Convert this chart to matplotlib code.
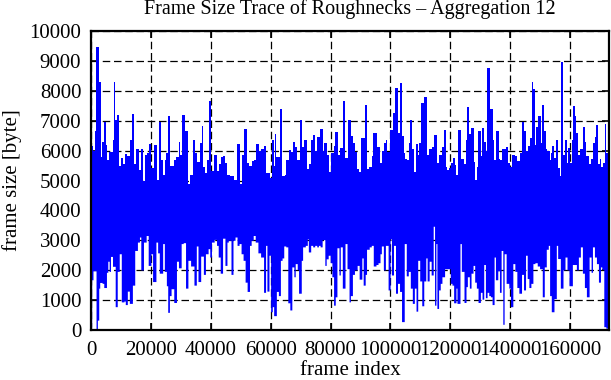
import numpy as np
import matplotlib.pyplot as plt

# frame index (in thousands) where each step of the upper envelope starts, and its value [byte]
hi_k = [0, 0.67, 1.35, 1.69, 2.70, 3.26, 3.82, 4.38, 4.95, 5.51, 6.07, 7.19, 7.53, 8.09, 8.54, 9.33,
        9.89, 10.68, 11.35, 12.14, 13.04, 13.60, 14.39, 15.06, 16.19, 16.64, 17.42, 18.10, 18.66, 19.33,
        20.01, 21.13, 21.92, 22.59, 23.27, 23.94, 24.62, 25.18, 25.63, 26.53, 27.65, 28.55, 29.34, 29.79,
        30.46, 31.36, 32.37, 33.05, 33.94, 34.73, 35.41, 36.31, 36.98, 37.43, 38.22, 38.67, 39.34, 40.01,
        41.03, 42.15, 42.71, 43.39, 44.06, 44.85, 45.41, 46.42, 47.77, 48.78, 49.91, 50.36, 51.25, 52.15,
        52.94, 53.73, 54.51, 55.19, 55.98, 56.87,
        57.86, 58.54, 59.66, 60.34, 61.01, 61.35, 61.91, 63.03, 63.93, 64.72, 65.28, 66.07, 66.74, 67.42,
        68.09, 68.66, 69.78, 70.34, 71.24, 72.03, 72.70, 73.38, 74.05, 74.84, 75.40, 76.52, 77.42, 77.98,
        78.66, 79.45, 80.23, 81.02, 81.58, 82.48, 83.27, 84.17, 84.95, 85.74, 86.86, 87.54, 88.10, 88.89,
        89.45, 90.24, 91.47, 92.26, 92.93, 93.72, 94.28, 95.41, 96.42, 97.20, 97.88, 98.44, 99.00, 99.90,
        101.03, 101.70, 102.60, 103.27, 103.84, 104.40, 104.96, 105.52, 106.09, 106.65, 107.10, 107.77,
        108.56, 109.12, 109.68, 110.25, 111.14, 112.15, 113.05, 113.84, 114.51,
        115.53, 116.31, 117.21, 117.88, 118.44, 118.99, 119.66, 120.22, 120.78, 121.45, 122.01, 122.57,
        123.57, 124.47, 125.36, 125.70, 126.14, 127.04, 127.93, 128.38, 128.82, 129.27, 130.16, 130.61,
        131.17, 131.95, 132.40, 133.18, 134.19, 134.63, 135.30, 136.20, 136.76, 137.31, 138.65, 139.32,
        139.99, 140.66, 141.56, 142.23, 143.12, 144.02, 144.57, 145.13, 145.80, 146.47, 147.37, 147.70,
        148.26, 148.71, 149.38, 150.27, 150.72, 151.28, 151.84, 152.39, 153.17, 153.62, 154.07, 154.74,
        155.41, 155.97, 156.64, 157.08, 157.75, 158.31, 158.98, 159.43, 160.10, 160.55, 161.11, 161.66,
        162.11, 162.67, 163.23, 164.35, 164.90, 165.46, 166.36, 167.14, 167.81, 168.37, 168.81, 169.37,
        169.93, 170.49, 171.05, 171.61, 172.17]
hi_val = [6150, 6000, 6670, 9450, 8300, 5800, 6300, 6960, 6200, 5680, 5950, 6370, 8280, 7010, 7200, 5480,
          5750, 5560, 5880, 5810, 6340, 7240, 5560, 6040, 5350, 6070, 4980, 5850, 5920, 6230,
          5430, 6180, 5010, 6950, 5700, 5200, 5680, 5920, 7150, 5480, 5680, 5780, 6300, 5840,
          7180, 6650, 4870, 5200, 6350, 5920, 5620, 6260, 6810, 5450, 5240, 5700, 7650, 5320,
          5850, 5320, 5560, 5770, 5810, 5590, 5170, 5150, 5010, 6230, 4870, 5860, 6720, 5590,
          5480, 5650, 5700, 6220, 6000, 6060,
          6150, 5260, 5090, 6350, 5480, 6540, 5800, 7390, 5150, 5200, 5700, 6030, 5950, 6300,
          6110, 5670, 7010, 6110, 6340, 5390, 5540, 6350, 6510, 5980, 6460, 6720, 5980, 6270,
          5840, 5280, 5920, 6150, 6630, 5860, 6080, 7670, 5760, 7010, 6480, 6240, 5960, 5390,
          5280, 6420, 7510, 5400, 5460, 5810, 6590, 6130, 5570, 6000, 6270, 6350, 5950, 6680,
          7260, 8090, 6590, 8260, 6480, 5920, 5720, 5680, 6270, 7040, 6040, 5290,
          6230, 5840, 6260, 7590, 7780, 5860, 6060, 6130, 6510,
          5590, 5850, 6120, 6700, 5450, 5350, 5430, 5590, 5760, 5510, 5200, 6680,
          5720, 5560, 6370, 7450, 6560, 6760, 5610, 5010, 5460, 6650, 5810, 6760,
          6300, 5980, 8760, 7390, 6370, 5670, 6650, 5720, 5670, 6040, 6110, 5590,
          5460, 5850, 5810, 5650, 5920, 6950, 6650, 5980, 6150, 6420, 8280, 8060,
          6200, 6790, 7150, 6270, 7510, 6670, 6060, 5980, 5680, 5920, 6170, 5760,
          6350, 5430, 5150, 8950, 5860, 6350, 5590, 6080, 5590, 6370, 7480, 7150,
          6590, 5860, 6060, 6790, 6300, 5810, 5540, 5720, 6270, 6460, 6840, 5540,
          5720, 5460, 5590, 6900, 5920]

# same for the lower envelope
lo_k = [0, 0.22, 0.67, 1.69, 2.14, 2.59, 2.92, 3.71, 4.27, 5.17, 5.62, 6.07, 6.52, 7.19, 8.09, 8.77,
        9.44, 10.12, 11.02, 11.46, 12.14, 12.81, 13.83, 14.61, 15.51, 16.19, 16.64, 17.53, 18.43, 19.11,
        20.01, 20.57, 21.69, 22.26, 22.82, 23.94, 24.50, 25.18, 25.63, 26.19, 26.75, 27.65, 28.55, 29.22,
        30.12, 30.80, 31.58, 32.37, 33.27, 34.39, 35.18, 35.74, 36.64, 37.54, 38.22, 39.12, 39.68, 40.24,
        41.14, 41.93, 42.49, 43.16, 43.95, 44.74, 45.41, 45.86, 46.76, 47.43, 48.11, 48.78, 49.46, 50.13,
        50.80, 51.48, 52.15, 52.94, 53.50, 54.18, 54.85, 55.75, 56.65,
        57.64, 58.31, 58.76, 59.44, 60.00, 60.56, 61.01, 61.91, 62.59, 63.26, 63.82, 64.38, 65.06, 65.73,
        66.41, 67.08, 67.76, 68.21, 68.88, 69.33, 70.23, 70.68, 71.58, 72.25, 72.59, 73.38, 74.05, 74.72,
        75.40, 75.96, 76.52, 77.20, 78.10, 78.55, 79.22, 79.89, 80.46, 81.02, 81.58, 82.14, 82.82, 83.27,
        83.94, 84.84, 85.51, 86.19, 86.64, 87.31, 87.99, 88.89, 89.56, 90.46, 90.91, 91.58, 92.03, 92.93,
        93.61, 94.28, 95.18, 95.86, 96.53, 96.98, 97.65, 98.33, 99.23, 99.90, 100.35, 101.03, 101.70,
        102.37, 103.05, 103.72, 104.62, 105.30, 105.97, 106.65, 107.32, 108.00, 108.56, 109.12, 109.79,
        110.47, 111.14, 111.82, 112.26, 112.94, 113.61, 114.29, 114.74,
        115.20, 115.53, 116.09, 116.65, 117.21, 118.10, 120.00, 120.56, 121.12, 121.90, 122.23, 123.24,
        123.69, 124.58, 125.25, 125.70, 126.37, 126.93, 127.60, 128.15, 128.71, 129.27, 130.05, 130.61,
        131.17, 131.73, 132.29, 132.85, 133.40, 133.96, 134.63, 135.08, 135.86, 136.42, 136.98, 137.54,
        137.98, 138.65, 139.55, 140.11, 140.89, 141.56, 142.23, 142.90, 143.79, 144.46, 145.13, 145.69,
        146.25, 146.92, 147.59, 148.26, 149.04, 149.82, 150.72, 151.39, 152.06, 152.73, 153.17, 153.73,
        154.63, 155.41, 155.86, 156.75, 157.64, 158.31, 158.98, 159.65, 160.77, 162.11, 162.78, 163.45,
        164.12, 164.79, 165.46, 166.36, 167.03, 167.48, 168.14, 168.81, 169.48, 170.15, 170.60, 171.27,
        171.94]
lo_val = [100, 1680, 1980, 50, 330, 1400, 1590, 1560, 1420, 1930, 2300, 1960, 2460, 2130, 780, 1960,
          2550, 940, 970, 850, 1300, 890, 1500, 2660, 2940, 3110, 2010, 2940, 3160, 2160,
          2550, 1620, 2940, 2580, 1900, 2890, 1960, 1480, 590, 1150, 1380, 920, 2300, 2080,
          2890, 2920, 1400, 2330, 2140, 1500, 2810, 1620, 2470, 1860, 2550, 2720, 2440, 2940,
          3030, 2830, 2440, 1900, 3070, 2160, 2940, 3000, 1860, 3000, 3110, 2830, 2890, 2550,
          2330, 1600, 1290, 2830, 3000, 3160, 2940, 2580, 2440,
          1260, 2830, 1300, 2500, 610, 780, 480, 1290, 1150, 2330, 2410, 2810, 2780, 910,
          670, 2110, 1780, 2220, 2020, 1230, 2330, 2780, 2830, 3050, 2610, 2830, 2780, 2830,
          2780, 2830, 2780, 3020, 2160, 2380, 2500, 2250, 1780, 830, 1110, 2750, 1840, 2780,
          1400, 2890, 2050, 940, 1150, 1860, 2010, 2160, 1700, 2410, 1500, 1860, 2700, 2780,
          2830, 2140, 2190, 2250, 2550, 2810, 2010, 2830, 1340, 3050, 1840, 2830, 1230,
          1560, 1290, 280, 2890, 1810, 1960, 1400, 890, 1400, 630, 2330, 1640,
          810, 1640, 2410, 1640, 2300, 1840, 3470, 830,
          2890, 720, 1340, 1560, 1780, 2050, 1560, 1500, 910, 1400, 890, 2890,
          1960, 920, 1450, 1780, 1400, 1900, 2160, 1600, 1400, 920, 1260, 1030,
          2190, 1080, 1260, 1150, 1110, 850, 2440, 1680, 1980, 1260, 2660, 190,
          2550, 1560, 1400, 780, 2220, 1960, 1420, 1230, 1860, 1340, 2500, 1720,
          1420, 1560, 2220, 2250, 2140, 2050, 1110, 2110, 2700, 2830, 1150, 610,
          1050, 2830, 2390, 1400, 2010, 2440, 2010, 1480, 2190, 2010, 2440, 2780,
          1900, 1420, 1110, 2440, 1930, 2780, 2440, 2220, 1600, 2110, 2030, 110,
          60]

last_frame = 173000
xticks = np.arange(0, 160001, 20000)
yticks = np.arange(0, 10001, 1000)

plt.rcParams['font.family'] = ['Liberation Serif', 'DejaVu Serif']
plt.rcParams['font.size'] = 15

fig = plt.figure(figsize=(6.11, 3.80), dpi=100)
ax = fig.add_axes([0.1489, 0.1316, 0.8478, 0.7868])

hx = np.append(np.array(hi_k) * 1000, last_frame)
hy = np.append(hi_val, hi_val[-1])
lx = np.append(np.array(lo_k) * 1000, last_frame)
ly = np.append(lo_val, lo_val[-1])

# the band between the two envelopes is solid; the two fills overlap so no seam shows
ax.fill_between(hx, 3500, hy, step='post', color='#0000ff', lw=0, zorder=2, antialiased=False)
ax.fill_between(lx, ly, 4500, step='post', color='#0000ff', lw=0, zorder=2, antialiased=False)

ax.set_xlim(0, last_frame)
ax.set_ylim(0, 10000)
ax.set_xticks(xticks)
ax.set_yticks(yticks)
ax.grid(True, color='black', linestyle=(0, (6, 3)), linewidth=0.9)
ax.set_axisbelow(True)
ax.tick_params(direction='in', top=True, right=True, length=5, width=1.2)
ax.tick_params(axis='x', pad=8)
ax.tick_params(axis='y', pad=7)
for s in ax.spines.values():
    s.set_linewidth(1.6)
    s.set_zorder(3)

ax.set_title('Frame Size Trace of Roughnecks \u2013 Aggregation 12', fontsize=14.5, pad=12)
ax.set_xlabel('frame index', labelpad=1)
ax.set_ylabel('frame size [byte]', labelpad=5)

fig.savefig('out.png', dpi=100)
